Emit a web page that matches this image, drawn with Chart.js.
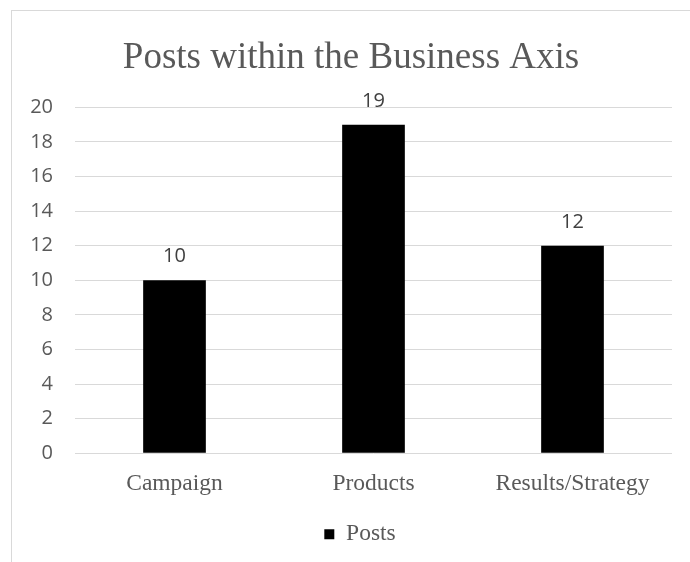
<!DOCTYPE html>
<html>
<head>
<meta charset="utf-8">
<title>Posts within the Business Axis</title>
<script src="https://cdn.jsdelivr.net/npm/chart.js@4.4.1/dist/chart.umd.min.js"></script>
<style>
  html, body { margin: 0; padding: 0; background: #fff; overflow: hidden; }
  /* light frame round the chart, runs off the right and bottom edges */
  #frame {
    position: absolute; left: 11px; top: 10px; width: 900px; height: 800px;
    border-left: 1px solid #d9d9d9; border-top: 1px solid #d9d9d9;
  }
  #wrap { position: absolute; left: 0; top: 0; width: 690px; height: 562px; }
</style>
</head>
<body>
<div id="frame"></div>
<div id="wrap"><canvas id="postsChart"></canvas></div>
<script>
// --- Data ---
const categories = ['Campaign', 'Products', 'Results/Strategy'];
const postCounts = [10, 19, 12];
const seriesName = 'Posts';
const yMin = 0;
const yMax = 20;
const yStep = 2;

const GREY_TEXT = '#595959';
const GRID = '#d9d9d9';
const SERIF = '"Liberation Serif", "Times New Roman", serif';
const SANS = '"Open Sans", "Liberation Sans", sans-serif';

// Value above each bar
const valueLabels = {
    id: 'valueLabels',
    afterDatasetsDraw(chart) {
        const ctx = chart.ctx;
        const meta = chart.getDatasetMeta(0);
        const values = chart.data.datasets[0].data;
        ctx.save();
        ctx.font = '20px ' + SANS;
        ctx.fillStyle = '#404040';
        ctx.textAlign = 'center';
        ctx.textBaseline = 'alphabetic';
        meta.data.forEach((bar, i) => {
            ctx.fillText(String(values[i]), bar.x, bar.y - 18);
        });
        ctx.restore();
    }
};

// Legend sits a little right of the title centre
const legendNudge = {
    id: 'legendNudge',
    afterLayout(chart) {
        if (!chart.legend) return;
        chart.legend.left += 9;
        chart.legend.right += 9;
    }
};

const ctx = document.getElementById('postsChart').getContext('2d');

new Chart(ctx, {
    type: 'bar',
    data: {
        labels: categories,
        datasets: [{
            label: seriesName,
            data: postCounts,
            backgroundColor: '#000000',
            borderWidth: 0,
            categoryPercentage: 1,
            barPercentage: 0.315,
        }]
    },
    options: {
        responsive: true,
        maintainAspectRatio: false,
        animation: false,
        layout: {
            padding: { left: 30, right: 18, top: 0, bottom: 6 }
        },
        plugins: {
            tooltip: { enabled: false },
            title: {
                display: true,
                text: 'Posts within the Business Axis',
                color: GREY_TEXT,
                font: { family: SERIF, size: 37, weight: 'normal' },
                padding: { top: 36, bottom: 27 }
            },
            legend: {
                display: true,
                position: 'bottom',
                labels: {
                    color: GREY_TEXT,
                    font: { family: SERIF, size: 23.5 },
                    boxWidth: 10,
                    boxHeight: 10,
                    padding: 9
                }
            }
        },
        scales: {
            x: {
                grid: { display: false, drawTicks: false },
                border: { display: false },
                ticks: {
                    color: GREY_TEXT,
                    font: { family: SERIF, size: 23.5 },
                    padding: 16,
                    maxRotation: 0
                }
            },
            y: {
                min: yMin,
                max: yMax,
                grid: { color: GRID, lineWidth: 1, drawTicks: false },
                border: { display: false },
                ticks: {
                    stepSize: yStep,
                    color: GREY_TEXT,
                    font: { family: SANS, size: 20 },
                    padding: 22
                },
                afterFit: (scale) => { scale.width = 45; }
            }
        }
    },
    plugins: [valueLabels, legendNudge]
});
</script>
</body>
</html>
